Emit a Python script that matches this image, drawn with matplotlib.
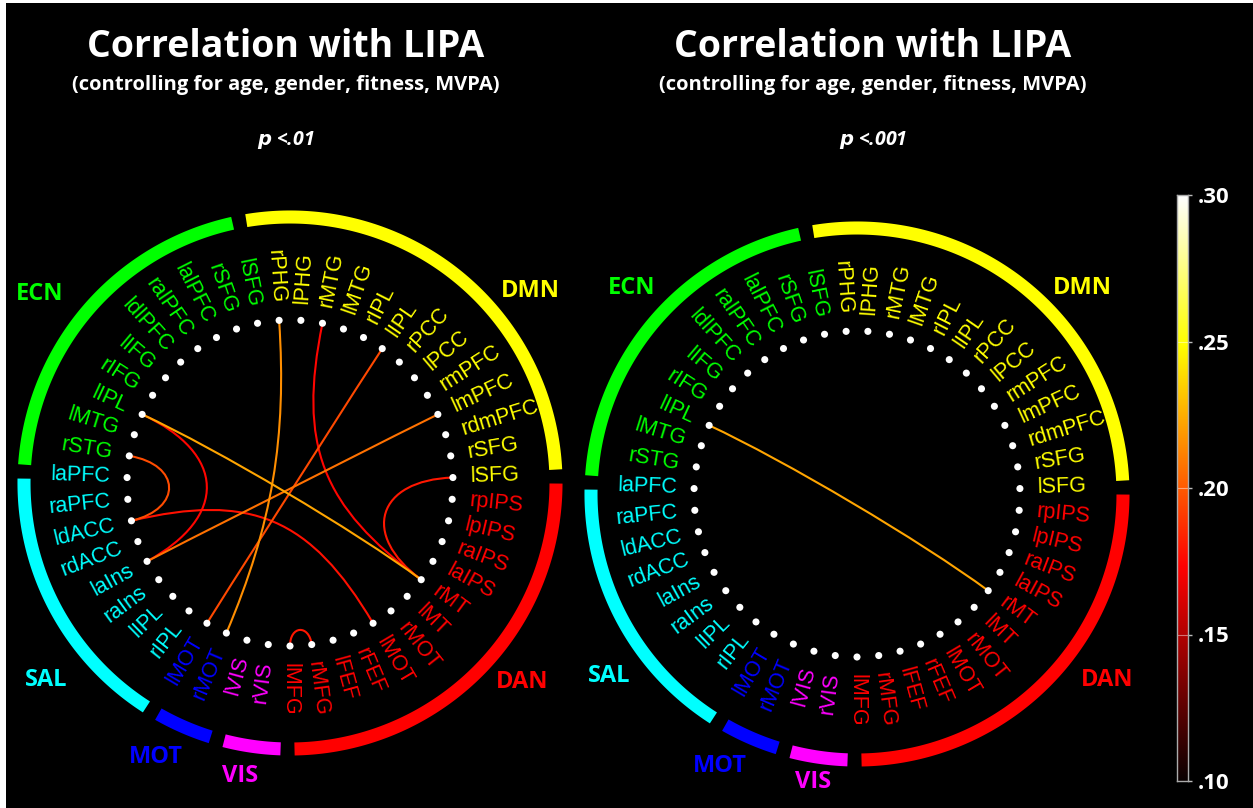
import numpy as np
import matplotlib
matplotlib.use('Agg')
import matplotlib.pyplot as plt
from matplotlib.path import Path
from matplotlib.patches import PathPatch, Rectangle

# 47 nodes, clockwise from the top of the ring
node_labels = ['rPHG', 'lPHG', 'rMTG', 'lMTG', 'rIPL', 'lIPL', 'rPCC', 'lPCC', 'rmPFC', 'lmPFC', 'rdmPFC', 'rSFG', 'lSFG',
               'rpIPS', 'lpIPS', 'raIPS', 'laIPS', 'rMT', 'lMT', 'rMOT', 'lMOT', 'rFEF', 'lFEF', 'rMFG', 'lMFG',
               'rVIS', 'lVIS',
               'rMOT', 'lMOT',
               'rIPL', 'lIPL', 'raIns', 'laIns', 'rdACC', 'ldACC', 'raPFC', 'laPFC',
               'rSTG', 'lMTG', 'lIPL', 'rIFG', 'lIFG', 'ldlPFC', 'ralPFC', 'lalPFC', 'rSFG', 'lSFG']
network_names = ['DMN', 'DAN', 'VIS', 'MOT', 'SAL', 'ECN']
network_sizes = [13, 12, 2, 2, 8, 10]
network_colors = ['#ffff00', '#ff0000', '#ff00ff', '#0000ff', '#00ffff', '#00ff00']

# significant edges (node index pairs) and their correlation values
p01_src = [0, 2, 5, 9, 12, 39, 39, 37, 34, 23]
p01_dst = [27, 17, 28, 32, 17, 17, 32, 34, 20, 24]
p01_r = [0.215, 0.175, 0.195, 0.207, 0.180, 0.222, 0.175, 0.196, 0.178, 0.180]

p001_src = [39]
p001_dst = [17]
p001_r = [0.222]

cbar_ticks = [0.10, 0.15, 0.20, 0.25, 0.30]
cbar_ticklabels = ['.10', '.15', '.20', '.25', '.30']

title = 'Correlation with LIPA'
subtitle = '(controlling for age, gender, fitness, MVPA)'

W, H = 1253, 808
N = len(node_labels)
step = 360.0 / N
R_NODE, R_LABEL, R_ARC = 163, 180, 266
cmap = plt.get_cmap('hot')
norm = plt.Normalize(0.10, 0.30)
BOLD = 'Open Sans'
LABEL_FONT = 'Liberation Sans'


def node_angle(i):
    return (i - 0.5) * step


def polar(cx, cy, ang, r):
    a = np.deg2rad(ang)
    return cx + r * np.sin(a), cy - r * np.cos(a)


def node_colors():
    cols = []
    for name, size, c in zip(network_names, network_sizes, network_colors):
        cols += [c] * size
    return cols


def draw_panel(ax, cx, cy, src, dst, vals, net_pos, title_x, p_text):
    cols = node_colors()

    # edges as cubic beziers pulled toward the centre
    for i, j, v in sorted(zip(src, dst, vals), key=lambda e: e[2]):
        x0, y0 = polar(cx, cy, node_angle(i), R_NODE)
        x3, y3 = polar(cx, cy, node_angle(j), R_NODE)
        sep = min(abs(i - j), N - abs(i - j))
        half = np.deg2rad(sep * step / 2)
        f = min(np.exp(-0.137 * sep) / max(np.cos(half), 1e-3), 0.9)
        c1 = (cx + (x0 - cx) * f, cy + (y0 - cy) * f)
        c2 = (cx + (x3 - cx) * f, cy + (y3 - cy) * f)
        path = Path([(x0, y0), c1, c2, (x3, y3)],
                    [Path.MOVETO, Path.CURVE4, Path.CURVE4, Path.CURVE4])
        ax.add_patch(PathPatch(path, facecolor='none', edgecolor=cmap(norm(v)),
                               lw=1.5, zorder=2))

    # nodes
    xs, ys = zip(*[polar(cx, cy, node_angle(i), R_NODE) for i in range(N)])
    ax.scatter(xs, ys, s=26, c='white', edgecolors='none', zorder=3)

    # node labels
    for i, lab in enumerate(node_labels):
        ang = node_angle(i) % 360
        x, y = polar(cx, cy, ang, R_LABEL)
        rot = 90 - ang
        if ang <= 180:
            ha = 'left'
        else:
            ha = 'right'
            rot += 180
        ax.text(x, y, lab, rotation=rot, rotation_mode='anchor', ha=ha, va='center',
                color=cols[i], fontsize=15.5, family=LABEL_FONT, zorder=4)

    # network arcs and names
    start = 0
    for name, size, col in zip(network_names, network_sizes, network_colors):
        a0 = (start - 1) * step - 1.8
        a1 = (start + size - 1) * step - 4.8
        t = np.linspace(a0, a1, 120)
        ax_, ay_ = polar(cx, cy, t, R_ARC)
        ax.plot(ax_, ay_, color=col, lw=9.4, solid_capstyle='butt', zorder=5)
        dx, dy = net_pos[name]
        ax.text(cx + dx, cy + dy, name, color=col, fontsize=17, fontweight='bold',
                family=BOLD, ha='center', va='center', zorder=5)
        start += size

    ax.text(title_x, 47, title, color='white', fontsize=27, fontweight='bold',
            family=BOLD, ha='center', va='center')
    ax.text(title_x, 85, subtitle, color='white', fontsize=14.5, fontweight='bold',
            family=BOLD, ha='center', va='center')
    ax.text(title_x, 140, p_text, color='white', fontsize=14, fontweight='bold',
            style='italic', family=BOLD, ha='center', va='center')


fig = plt.figure(figsize=(W / 100, H / 100), dpi=100, facecolor='white')
ax = fig.add_axes([0, 0, 1, 1])
ax.set_xlim(0, W)
ax.set_ylim(H, 0)
ax.axis('off')
ax.add_patch(Rectangle((6, 3), W, H, facecolor='black', edgecolor='none', zorder=0))

left_pos = {'ECN': (-250, -189), 'DMN': (240, -192), 'DAN': (232, 199),
            'SAL': (-244, 197), 'MOT': (-134, 274), 'VIS': (-50, 293)}
right_pos = {'ECN': (-225, -206), 'DMN': (225, -206), 'DAN': (250, 186),
             'SAL': (-248, 182), 'MOT': (-137, 272), 'VIS': (-44, 288)}

draw_panel(ax, 290, 483, p01_src, p01_dst, p01_r, left_pos, 286, r'$\boldsymbol{p}$ <.01')
draw_panel(ax, 857, 494, p001_src, p001_dst, p001_r, right_pos, 873, r'$\boldsymbol{p}$ <.001')

# colour bar
cax = fig.add_axes([1177 / W, 1 - 781 / H, 11 / W, (781 - 195) / H])
grad = np.linspace(0.10, 0.30, 256).reshape(-1, 1)
cax.imshow(grad, cmap=cmap, norm=norm, aspect='auto', origin='lower',
           extent=[0, 1, 0.10, 0.30])
cax.set_xticks([])
cax.yaxis.tick_right()
cax.set_yticks(cbar_ticks)
cax.set_yticklabels(cbar_ticklabels, fontsize=16, fontweight='bold', family=BOLD, color='white')
cax.tick_params(axis='y', colors='#bbbbbb', length=3, width=1, pad=4, labelcolor='white')
for v in cbar_ticks[1:-1]:
    cax.axhline(v, color='white', lw=0.8, alpha=0.45)
for s in cax.spines.values():
    s.set_color('#aaaaaa')
    s.set_linewidth(1)

fig.savefig('out.png', dpi=100, facecolor=fig.get_facecolor())
